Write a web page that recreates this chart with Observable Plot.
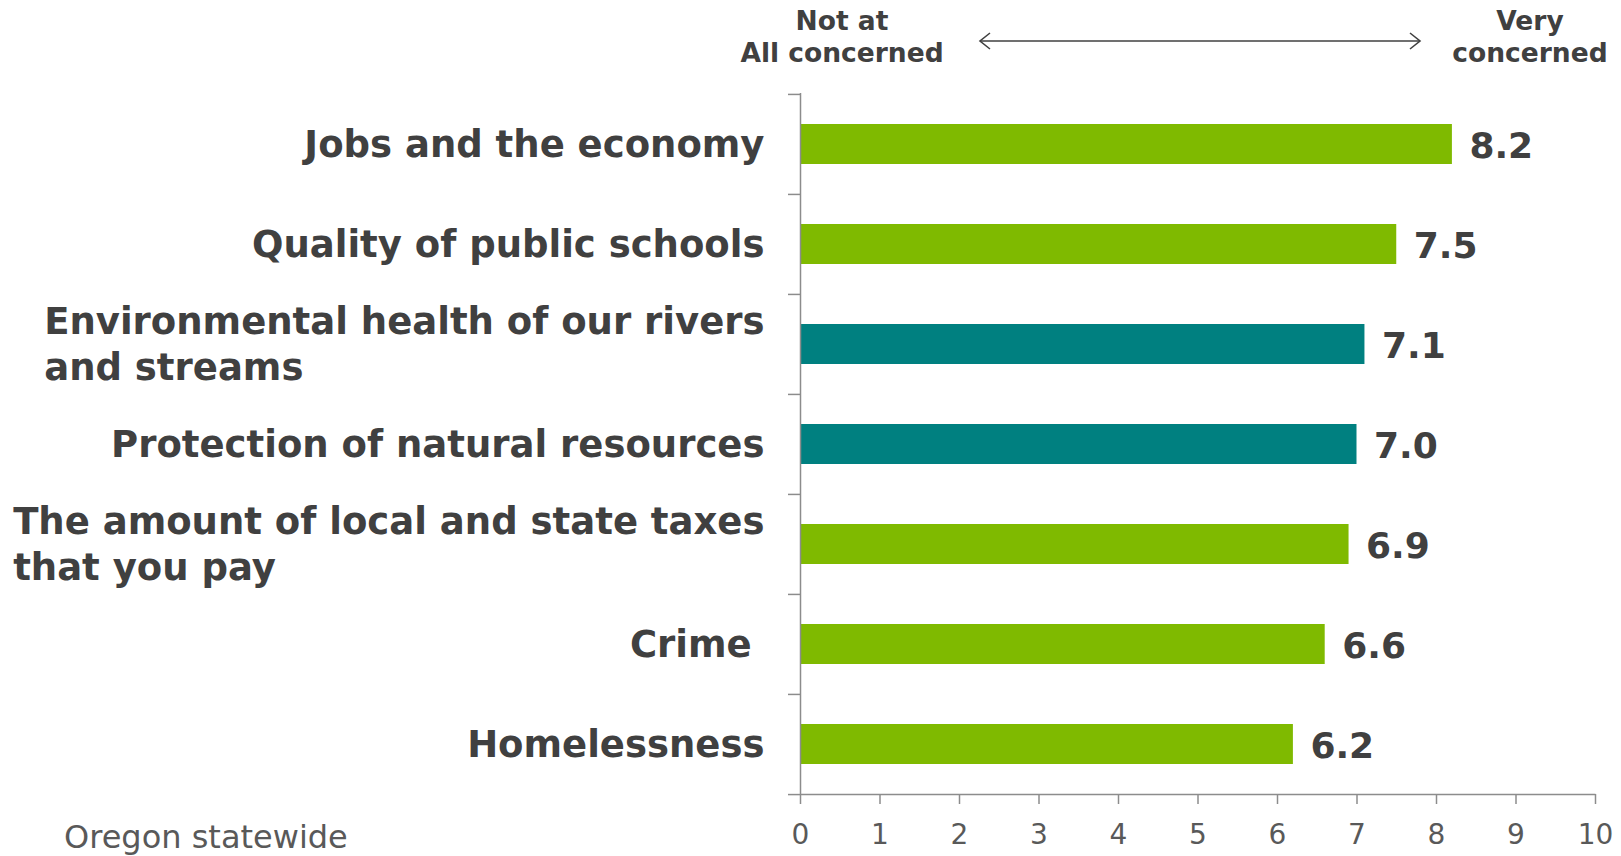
<!DOCTYPE html>
<html>
<head>
<meta charset="utf-8">
<script src="https://cdn.jsdelivr.net/npm/d3@7"></script>
<script src="https://cdn.jsdelivr.net/npm/@observablehq/plot@0.6"></script>
<style>
  body { margin: 0; background: #fff; font-family: "DejaVu Sans", Verdana, sans-serif; color: #404040; }
  #wrap { position: relative; width: 1621px; height: 856px; overflow: hidden; background: #fff; }
  #header { position: relative; height: 93px; }
  .hd { position: absolute; top: 5px; font-weight: bold; font-size: 26.5px; line-height: 32px; text-align: center; transform: translateX(-50%); white-space: nowrap; color: #404040; }
  #arrow { position: absolute; left: 975px; top: 30px; }
  #caption { position: absolute; left: 64px; top: 821px; font-size: 32px; line-height: 32px; color: #595959; white-space: nowrap; }
  #chart svg { display: block; }
</style>
</head>
<body>
<div id="wrap">
  <div id="header">
    <div class="hd" style="left:842px">Not at<br>All concerned</div>
    <svg id="arrow" width="450" height="22">
      <g stroke="#404040" stroke-width="1.6" fill="none">
        <line x1="5" y1="11" x2="445" y2="11"></line>
        <polyline points="15,3 5,11 15,19"></polyline>
        <polyline points="435,3 445,11 435,19"></polyline>
      </g>
    </svg>
    <div class="hd" style="left:1530px">Very<br>concerned</div>
  </div>
  <div id="chart"></div>
  <div id="caption">Oregon statewide</div>
</div>
<script>
// ---- data ----
const categories = [
  "Jobs and the economy",
  "Quality of public schools",
  "Environmental health of our rivers\nand streams",
  "Protection of natural resources",
  "The amount of local and state taxes\nthat you pay",
  "Crime\u00A0",
  "Homelessness"
];
const values = [8.2, 7.5, 7.1, 7.0, 6.9, 6.6, 6.2];
const groups = ["other", "other", "environment", "environment", "other", "other", "other"];
const xTicks = [0, 1, 2, 3, 4, 5, 6, 7, 8, 9, 10];
const groupDomain = ["other", "environment"];
const groupColors = ["#7FBA00", "#008080"];

const data = categories.map((c, i) => ({label: c, value: values[i], group: groups[i]}));

// ---- layout ----
const W = 1621, H = 763;
const mL = 800, mR = 26, mT = 0, mB = 62;
const step = (H - mT - mB) / categories.length;
const axisColor = "#8C8C8C";
const fmt = d3.format(".1f");

const chart = Plot.plot({
  width: W,
  height: H,
  marginLeft: mL,
  marginRight: mR,
  marginTop: mT,
  marginBottom: mB,
  style: {fontFamily: "DejaVu Sans, Verdana, sans-serif", background: "white", overflow: "visible"},
  x: {domain: [xTicks[0], xTicks[xTicks.length - 1]], label: null},
  y: {domain: categories, paddingInner: 0.6, paddingOuter: 0.3, label: null},
  color: {domain: groupDomain, range: groupColors},
  marks: [
    Plot.barX(data, {x: "value", y: "label", fill: "group"}),
    Plot.text(data, {
      x: "value", y: "label", text: d => fmt(d.value),
      dx: 17, dy: 2, textAnchor: "start", fontSize: 36, fontWeight: "bold", fill: "#404040"
    }),
    // category labels
    Plot.axisY({
      ticks: categories, tickSize: 0, tickPadding: 36, fontSize: 37, fontWeight: "bold",
      fill: "#404040", lineHeight: 1.24, dy: -2, label: null
    }),
    // band-boundary ticks on the y axis
    Plot.axisY({
      ticks: categories, tickSize: 12, dy: -step / 2, tickFormat: () => "",
      stroke: axisColor, strokeWidth: 1.5, label: null
    }),
    Plot.axisY({
      ticks: [categories[categories.length - 1]], tickSize: 12, dy: step / 2, tickFormat: () => "",
      stroke: axisColor, strokeWidth: 1.5, label: null
    }),
    // y axis line
    Plot.ruleX([xTicks[0]], {stroke: axisColor, strokeWidth: 1.5}),
    // x baseline
    Plot.link([categories[categories.length - 1]], {
      x1: () => xTicks[0], x2: () => xTicks[xTicks.length - 1],
      y1: d => d, y2: d => d, dy: step / 2, stroke: axisColor, strokeWidth: 1.5
    }),
    Plot.axisX({
      ticks: xTicks, tickSize: 10, tickPadding: 20, fontSize: 28, fill: "#595959",
      stroke: axisColor, strokeWidth: 1.5, label: null
    })
  ]
});

document.getElementById("chart").appendChild(chart);

// left-align the lines of multi-line category labels, keeping the block right-aligned
chart.querySelectorAll("text").forEach(t => {
  const spans = t.querySelectorAll("tspan");
  if (spans.length > 1) {
    const w = t.getBBox().width;
    t.setAttribute("text-anchor", "start");
    spans.forEach(s => s.setAttribute("x", -w));
  }
});
</script>
</body>
</html>
